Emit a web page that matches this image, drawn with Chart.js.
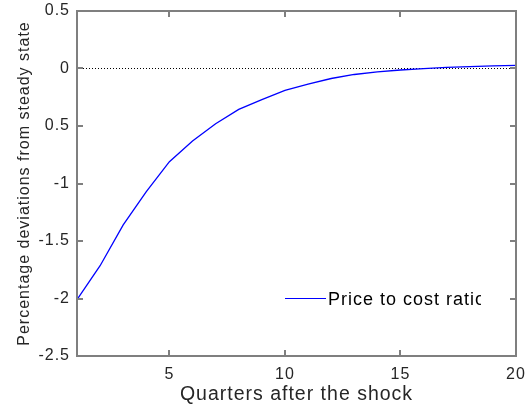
<!DOCTYPE html>
<html>
<head>
<meta charset="utf-8">
<script src="https://cdn.jsdelivr.net/npm/chart.js@4.4.1/dist/chart.umd.min.js"></script>
<style>
  html, body { margin: 0; padding: 0; background: #fff; }
  #wrap { width: 526px; height: 407px; }
</style>
</head>
<body>
<div id="wrap"><canvas id="irf" width="526" height="407"></canvas></div>
<script>
// --- Data ---
const quarters = [1, 2, 3, 4, 5, 6, 7, 8, 9, 10, 11, 12, 13, 14, 15, 16, 17, 18, 19, 20];
const priceToCost = [-2.01, -1.715, -1.36, -1.07, -0.81, -0.63, -0.48, -0.355, -0.27, -0.19,
                     -0.135, -0.087, -0.052, -0.03, -0.013, -0.001, 0.009, 0.017, 0.023, 0.027];
const xTicks = [5, 10, 15, 20];
const yTicks = [0.5, 0, -0.5, -1, -1.5, -2, -2.5];
const yTickLabels = ['0.5', '0', '0.5', '-1', '-1.5', '-2', '-2.5'];
const seriesName = 'Price to cost ratio';

const FONT = 'Liberation Sans, Arial, sans-serif';
const AXIS_GREY = '#7f7f7f';
const TEXT_GREY = '#262626';

// matlab spreads its glyphs a bit, so widen the canvas text
const spacing = {
    id: 'spacing',
    beforeUpdate(chart) { chart.ctx.letterSpacing = '1px'; },
    beforeDraw(chart) { chart.ctx.letterSpacing = '1px'; }
};

// box round the axes with inward ticks ("box on"), then the legend inside the plot
const decorations = {
    id: 'decorations',
    afterDraw(chart) {
        const { ctx, chartArea: a, scales } = chart;
        const L = Math.round(a.left) - 1, R = Math.round(a.right) - 1;
        const T = Math.round(a.top) - 1, B = Math.round(a.bottom) - 1;
        ctx.save();
        ctx.fillStyle = AXIS_GREY;
        ctx.fillRect(L, T, R - L + 2, 2);
        ctx.fillRect(L, B, R - L + 2, 2);
        ctx.fillRect(L, T, 2, B - T + 2);
        ctx.fillRect(R, T, 2, B - T + 2);
        xTicks.forEach(v => {
            const x = Math.round(scales.x.getPixelForValue(v)) - 1;
            ctx.fillRect(x, B - 5, 2, 5);
            ctx.fillRect(x, T + 2, 2, 5);
        });
        yTicks.forEach(v => {
            const y = Math.round(scales.y.getPixelForValue(v)) - 1;
            ctx.fillRect(L + 2, y, 5, 2);
            ctx.fillRect(R - 5, y, 5, 2);
        });
        ctx.restore();

        // legend, no border, text clipped by its box like in the original
        const ly = 298.5;
        ctx.save();
        ctx.strokeStyle = '#0000ff';
        ctx.lineWidth = 1.2;
        ctx.beginPath();
        ctx.moveTo(285, ly); ctx.lineTo(326, ly);
        ctx.stroke();
        ctx.beginPath();
        ctx.rect(320, ly - 15, 161, 30);
        ctx.clip();
        ctx.fillStyle = '#000';
        ctx.font = '18px ' + FONT;
        ctx.letterSpacing = '1px';
        ctx.textBaseline = 'middle';
        ctx.fillText(chart.data.datasets[0].label, 328, ly + 1.5);
        ctx.restore();
    }
};

new Chart(document.getElementById('irf'), {
    type: 'line',
    data: {
        datasets: [
            {
                label: seriesName,
                data: quarters.map((q, i) => ({ x: q, y: priceToCost[i] })),
                borderColor: '#0000ff',
                borderWidth: 1.3,
                pointRadius: 0,
                tension: 0,
                fill: false
            },
            {
                label: 'steady state',
                data: [{ x: quarters[0], y: 0 }, { x: quarters[quarters.length - 1], y: 0 }],
                borderColor: '#000',
                borderWidth: 1,
                borderDash: [1, 2],
                pointRadius: 0,
                fill: false
            }
        ]
    },
    options: {
        responsive: false,
        animation: false,
        layout: { padding: { top: 11, right: 10, left: 0, bottom: 0 } },
        plugins: { legend: { display: false }, tooltip: { enabled: false } },
        scales: {
            x: {
                type: 'linear',
                min: 1,
                max: 20,
                afterBuildTicks: s => { s.ticks = xTicks.map(v => ({ value: v })); },
                afterFit: s => { s.height = 51; s.paddingLeft = 0; s.paddingRight = 0; },
                grid: { display: false, drawTicks: false },
                border: { display: false },
                ticks: { color: TEXT_GREY, font: { family: FONT, size: 16 }, padding: 9, maxRotation: 0 },
                title: {
                    display: true,
                    text: 'Quarters after the shock',
                    color: TEXT_GREY,
                    font: { family: FONT, size: 19.5 },
                    padding: { top: 0, bottom: 1 }
                }
            },
            y: {
                min: -2.5,
                max: 0.5,
                afterBuildTicks: s => { s.ticks = yTicks.map(v => ({ value: v })); },
                afterFit: s => { s.width = 77; s.paddingTop = 0; s.paddingBottom = 0; },
                grid: { display: false, drawTicks: false },
                border: { display: false },
                ticks: {
                    color: TEXT_GREY,
                    font: { family: FONT, size: 16 },
                    padding: 7,
                    callback: (v) => yTickLabels[yTicks.indexOf(v)]
                },
                title: {
                    display: true,
                    text: 'Percentage deviations from steady state',
                    color: TEXT_GREY,
                    font: { family: FONT, size: 16 },
                    padding: { top: 15, bottom: 0 }
                }
            }
        }
    },
    plugins: [spacing, decorations]
});
</script>
</body>
</html>
